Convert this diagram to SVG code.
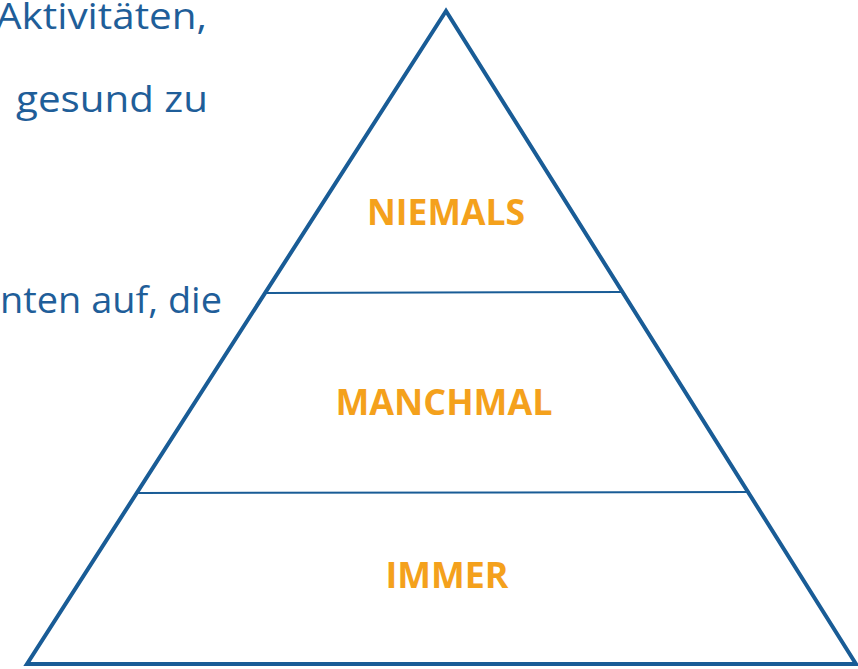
<svg xmlns="http://www.w3.org/2000/svg" width="858" height="669" viewBox="0 0 858 669">
<style>
.body{font-family:"Open Sans","Liberation Sans",sans-serif;font-size:37px;fill:#1F5E99}
.lvl{font-family:"Open Sans","Liberation Sans",sans-serif;font-weight:bold;font-size:36px;fill:#F4A11C;text-anchor:middle}
.edge{fill:none;stroke:#195C96;stroke-width:4;stroke-linejoin:miter}
.div{stroke:#195C96;stroke-width:2}
</style>
<rect width="858" height="669" fill="#fff"/>
<g id="background-text">
<text class="body" x="-4" y="29" textLength="211" lengthAdjust="spacingAndGlyphs">Aktivitäten,</text>
<text class="body" x="16" y="112" textLength="192" lengthAdjust="spacingAndGlyphs">gesund zu</text>
<text class="body" x="0" y="313" textLength="222" lengthAdjust="spacingAndGlyphs">nten auf, die</text>
</g>
<g id="pyramid">
<polygon class="edge" points="446,11 27,664 856,664"/>
</g>
<g id="connectors">
<line class="div" x1="266" y1="293" x2="624" y2="292"/>
<line class="div" x1="138" y1="493" x2="750" y2="492"/>
</g>
<g id="niemals"><text class="lvl" x="446" y="225" textLength="158" lengthAdjust="spacingAndGlyphs">NIEMALS</text></g>
<g id="manchmal"><text class="lvl" x="444" y="415" textLength="217" lengthAdjust="spacingAndGlyphs">MANCHMAL</text></g>
<g id="immer"><text class="lvl" x="447" y="588" textLength="123" lengthAdjust="spacingAndGlyphs">IMMER</text></g>
</svg>
